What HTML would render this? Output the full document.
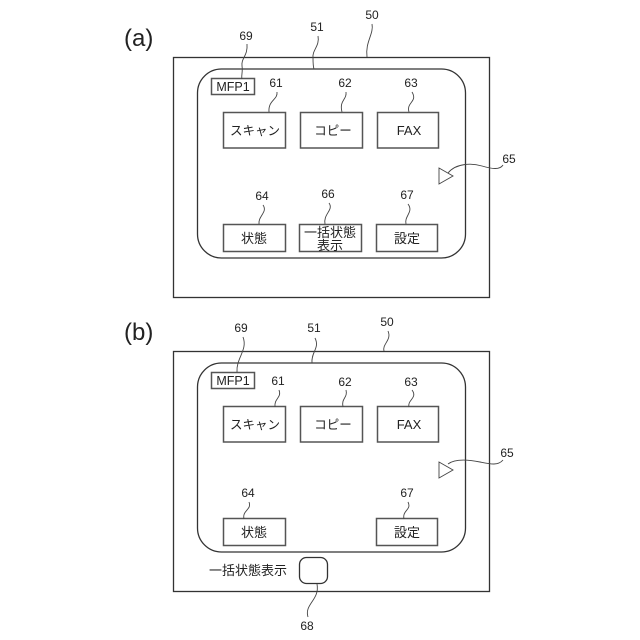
<!DOCTYPE html>
<html>
<head>
<meta charset="utf-8">
<style>
html,body{margin:0;padding:0;background:#fff}
svg{display:block}
text{font-family:"Liberation Sans","Noto Sans CJK JP",sans-serif;fill:#222}
.n{font-size:12px;text-anchor:middle}
.b{font-size:13px;text-anchor:middle}
.s{fill:none;stroke:#333;stroke-width:1.3}
.box{fill:#fff;stroke:#555;stroke-width:1.5}
.l{fill:none;stroke:#444;stroke-width:.9}
</style>
</head>
<body>
<svg width="640" height="640" viewBox="0 0 640 640" xmlns="http://www.w3.org/2000/svg">
<rect width="640" height="640" fill="#fff"/>

<!-- (a) -->
<text x="124" y="46" font-size="24">(a)</text>
<rect class="s" x="173.500" y="57.500" width="316" height="240"/>
<rect class="s" x="197.500" y="69" width="268" height="189" rx="24" ry="24"/>
<rect class="box" x="211.500" y="78.500" width="43" height="16"/>
<text class="b" x="233" y="91" style="font-size:12.500px">MFP1</text>
<rect class="box" x="223.500" y="112.500" width="62" height="35.500"/>
<rect class="box" x="300.500" y="112.500" width="62" height="35.500"/>
<rect class="box" x="377.500" y="112.500" width="61" height="35.500"/>
<text class="b" x="255" y="135" style="font-size:12.500px">スキャン</text>
<text class="b" x="333" y="135" style="font-size:12.500px">コピー</text>
<text class="b" x="409" y="135">FAX</text>
<rect class="box" x="223.500" y="224.500" width="62" height="27"/>
<rect class="box" x="299.500" y="224.500" width="62" height="27"/>
<rect class="box" x="376.500" y="224.500" width="61" height="27"/>
<text class="b" x="254" y="243">状態</text>
<text class="b" x="330" y="237">一括状態</text>
<text class="b" x="330" y="250">表示</text>
<text class="b" x="407" y="243">設定</text>
<path class="l" d="M439 168 L453 176 L439 184 Z" stroke="#555"/>

<text class="n" x="246" y="40">69</text>
<path class="l" d="M247 44 C248 56 241 58 242 66 C243 72 241 76 242 79"/>
<text class="n" x="317" y="31">51</text>
<path class="l" d="M318 36 C320 46 312 50 313 58 C313 62 313 66 314 69"/>
<text class="n" x="372" y="19">50</text>
<path class="l" d="M372 24 C374 34 365 42 367 57"/>
<text class="n" x="276" y="87">61</text>
<path class="l" d="M277 92 C278 100 268 100 269 112"/>
<text class="n" x="345" y="87">62</text>
<path class="l" d="M346 92 C347 100 339 100 342 112"/>
<text class="n" x="411" y="87">63</text>
<path class="l" d="M412 92 C418 102 406 102 409 112"/>
<text class="n" x="509" y="163">65</text>
<path class="l" d="M448 173 C456 163 472 163 482 166 C492 169 500 170 503 165"/>
<text class="n" x="262" y="200">64</text>
<path class="l" d="M263 205 C268 212 258 216 259 224"/>
<text class="n" x="328" y="198">66</text>
<path class="l" d="M329 203 C334 210 323 214 325 224"/>
<text class="n" x="407" y="199">67</text>
<path class="l" d="M408 204 C414 212 404 216 406 224"/>

<!-- (b) -->
<text x="124" y="340" font-size="24">(b)</text>
<rect class="s" x="173.500" y="351.500" width="316" height="240"/>
<rect class="s" x="197.500" y="363" width="268" height="189" rx="24" ry="24"/>
<rect class="box" x="211.500" y="372.500" width="43" height="16"/>
<text class="b" x="233" y="385" style="font-size:12.500px">MFP1</text>
<rect class="box" x="223.500" y="406.500" width="62" height="35.500"/>
<rect class="box" x="300.500" y="406.500" width="62" height="35.500"/>
<rect class="box" x="377.500" y="406.500" width="61" height="35.500"/>
<text class="b" x="255" y="429" style="font-size:12.500px">スキャン</text>
<text class="b" x="333" y="429" style="font-size:12.500px">コピー</text>
<text class="b" x="409" y="429">FAX</text>
<rect class="box" x="223.500" y="518.500" width="62" height="27"/>
<rect class="box" x="376.500" y="518.500" width="61" height="27"/>
<text class="b" x="254" y="537">状態</text>
<text class="b" x="407" y="537">設定</text>
<path class="l" d="M439 462 L453 470 L439 478 Z" stroke="#555"/>
<text x="209" y="575" font-size="13">一括状態表示</text>
<rect class="s" x="299.500" y="557.500" width="28" height="26" rx="7" ry="7"/>

<text class="n" x="241" y="332">69</text>
<path class="l" d="M243 337 C248 350 236 358 237 372"/>
<text class="n" x="314" y="332">51</text>
<path class="l" d="M315 338 C320 348 311 352 312 363"/>
<text class="n" x="387" y="326">50</text>
<path class="l" d="M388 331 C392 340 382 344 384 351"/>
<text class="n" x="278" y="385">61</text>
<path class="l" d="M279 390 C282 398 274 398 275 407"/>
<text class="n" x="345" y="386">62</text>
<path class="l" d="M346 390 C348 398 341 398 343 407"/>
<text class="n" x="411" y="386">63</text>
<path class="l" d="M412 390 C418 398 407 400 409 407"/>
<text class="n" x="507" y="457">65</text>
<path class="l" d="M448 464 C456 458 470 460 480 462 C490 464 498 466 503 460"/>
<text class="n" x="248" y="497">64</text>
<path class="l" d="M249 502 C252 510 242 510 244 519"/>
<text class="n" x="407" y="497">67</text>
<path class="l" d="M408 502 C412 510 402 510 404 519"/>
<text class="n" x="307" y="630">68</text>
<path class="l" d="M317 584 C320 600 304 604 308 617"/>
</svg>
</body>
</html>
